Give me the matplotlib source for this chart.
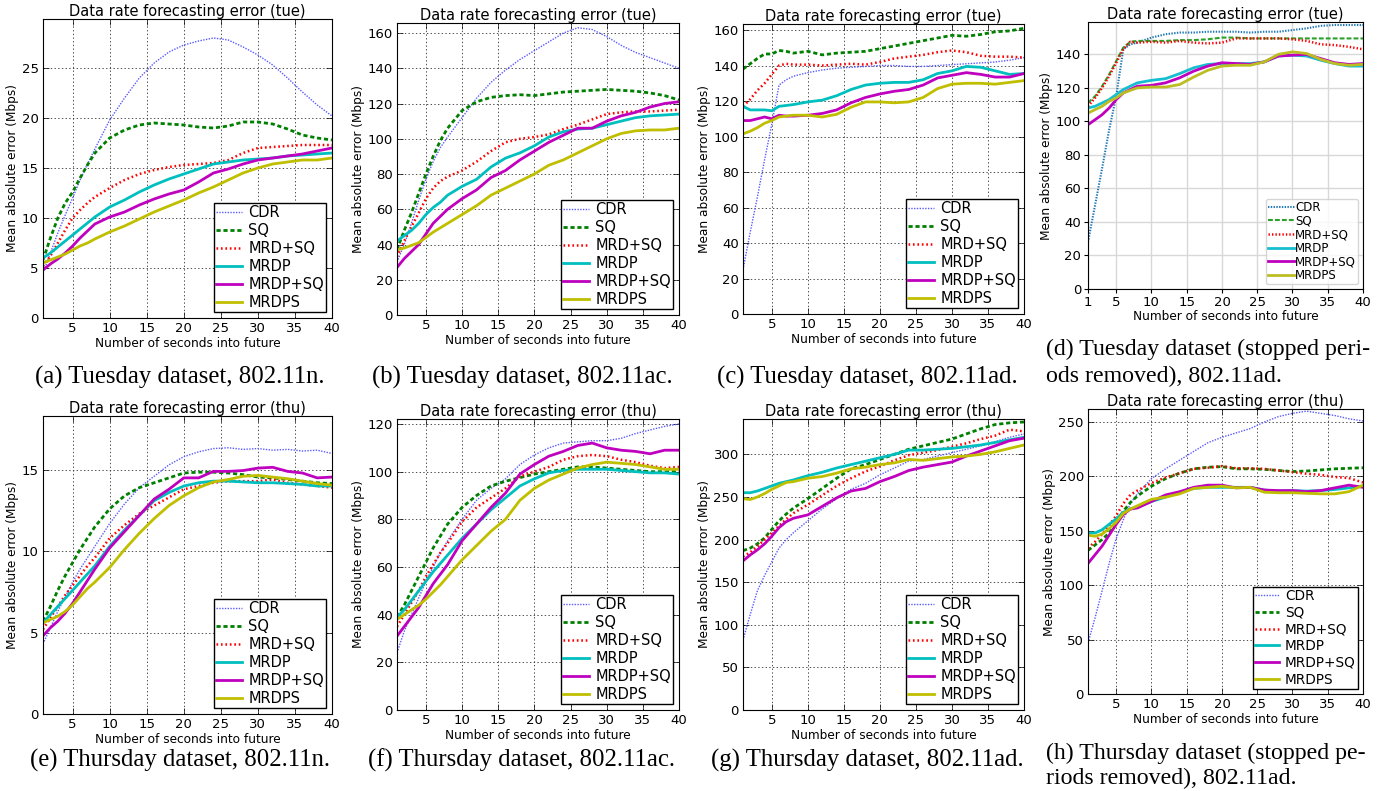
import matplotlib.pyplot as plt

W, H = 1396, 791

X = [1, 2, 3, 4, 5, 6, 7, 8, 10, 12, 14, 16, 18, 20, 22, 24, 26, 28, 30, 32, 34, 36, 38, 40]
names = ['CDR', 'SQ', 'MRD+SQ', 'MRDP', 'MRDP+SQ', 'MRDPS']

# (a) Tuesday, 802.11n
a_cdr = [4.5, 6.5, 8.5, 10.3, 12.0, 13.8, 15.4, 16.9, 19.8, 22.0, 24.0, 25.5, 26.6, 27.3, 27.7, 28.0, 27.8, 27.1, 26.3, 25.3, 24.0, 22.6, 21.3, 20.2]
a_sq = [5.8, 8.0, 10.0, 11.5, 12.6, 14.0, 15.3, 16.5, 18.0, 18.8, 19.3, 19.5, 19.4, 19.3, 19.1, 19.0, 19.2, 19.6, 19.6, 19.4, 18.9, 18.3, 18.0, 17.8]
a_mrdsq = [5.2, 6.2, 7.5, 8.8, 10.0, 10.8, 11.5, 12.1, 13.0, 13.8, 14.4, 14.8, 15.1, 15.3, 15.4, 15.5, 15.8, 16.5, 17.0, 17.1, 17.2, 17.3, 17.3, 17.3]
a_mrdp = [6.0, 6.5, 7.1, 7.7, 8.3, 8.9, 9.5, 10.1, 11.1, 11.8, 12.6, 13.3, 13.9, 14.4, 14.9, 15.4, 15.6, 15.8, 15.9, 16.0, 16.2, 16.3, 16.4, 16.5]
a_mrdpsq = [4.8, 5.4, 5.9, 6.5, 7.2, 8.0, 8.7, 9.4, 10.1, 10.6, 11.3, 11.9, 12.4, 12.8, 13.6, 14.5, 14.9, 15.4, 15.8, 16.0, 16.2, 16.4, 16.7, 17.0]
a_mrdps = [5.5, 5.8, 6.1, 6.4, 6.8, 7.2, 7.5, 7.9, 8.6, 9.2, 9.9, 10.6, 11.2, 11.8, 12.5, 13.1, 13.8, 14.5, 15.0, 15.4, 15.6, 15.8, 15.8, 16.0]

# (b) Tuesday, 802.11ac
b_cdr = [30, 40, 52, 65, 77, 87, 95, 101, 112, 123, 132, 139, 145, 150, 155, 160, 163, 162, 158, 153, 149, 146, 143, 140]
b_sq = [37, 48, 58, 69, 80, 90, 99, 106, 116, 121, 123.5, 124.5, 125, 124.5, 125.5, 126.5, 127, 127.5, 128, 127.5, 127, 126, 124.5, 122]
b_mrdsq = [33, 42, 50, 58, 66, 72, 76, 78.5, 82, 87, 93, 98, 100, 101, 102.5, 105.5, 108, 111, 114, 115, 115.5, 115.5, 116, 116.5]
b_mrdp = [42, 45, 48, 52, 57, 61, 64, 68, 73, 77, 84, 89, 92, 96, 101, 104, 105.5, 106, 108, 110, 112, 113, 113.5, 114]
b_mrdpsq = [27, 32, 36, 40, 46, 52, 56, 60, 66, 71, 78, 82, 88, 93, 98, 102, 106, 106, 110, 113, 115, 118, 120, 121]
b_mrdps = [37, 38, 39.5, 41, 44, 47, 49.5, 52, 57, 62, 68, 72, 76, 80, 85, 88, 92, 96, 100, 103, 104.5, 105, 105, 106]

# (c) Tuesday, 802.11ad
c_cdr = [25, 46, 66, 87, 107, 129, 132, 134, 136, 137.5, 138.5, 139, 139.5, 140, 140, 139.5, 139.5, 140, 140.5, 141, 141.5, 142, 143, 144.5]
c_sq = [138, 141, 144, 146.5, 146.5, 148.5, 148, 147, 148, 146, 147, 147.5, 148, 149.5, 151, 152.5, 154, 155.5, 157, 156.5, 157.5, 159, 159.5, 161]
c_mrdsq = [117, 121, 126, 130, 135, 140, 141, 140.5, 140.5, 140, 140.5, 141, 140.5, 142, 144, 145, 146, 147.5, 148.5, 147.5, 145.5, 145, 145, 144.5]
c_mrdp = [117, 115, 115, 115, 114.5, 117, 117.5, 118, 119.5, 120.5, 123, 126.5, 129, 130, 130.5, 130.5, 132, 135.5, 137, 139.5, 139, 137, 135, 135.5]
c_mrdpsq = [109, 109, 110, 111, 110, 112, 111.5, 111.5, 112, 113, 115, 119, 122, 124, 125.5, 126.5, 129, 133, 134.5, 136, 135, 133.5, 133.5, 135.5]
c_mrdps = [101.5, 103, 105, 107.5, 109, 111, 111.5, 112, 112, 111, 112.5, 116.5, 119.5, 119.5, 119, 119.5, 122, 127, 129.5, 130, 130, 129.5, 130.5, 131.5]

# (d) Tuesday, stopped periods removed, 802.11ad
d_cdr = [28, 50, 72, 95, 115, 143, 146, 147, 150, 152, 153, 153, 153.5, 153.5, 153.5, 153, 153.5, 153.5, 154.5, 155.5, 157, 157.5, 157.5, 157.5]
d_sq = [111, 115, 121, 128, 136, 144, 147.5, 148, 148, 148, 148.5, 148.5, 149, 150, 150, 149.5, 149.5, 149.5, 149.5, 149.5, 149.5, 149.5, 149.5, 149.5]
d_mrdsq = [109, 114, 120, 127, 135, 143, 147.5, 147, 147.5, 147, 148, 147, 146.5, 147, 149.5, 149.5, 149.5, 149.5, 149, 148, 146, 145.5, 144.5, 143]
d_mrdp = [108, 109, 111, 113, 116, 119, 121, 123, 124.5, 125.5, 128.5, 132, 134, 134.5, 134.5, 134.5, 135.5, 139, 139.5, 139, 136.5, 134.5, 133, 133]
d_mrdpsq = [98, 101, 104, 108, 113, 117, 119, 121, 121.5, 123, 126, 130, 133, 135, 134.5, 134, 135.5, 139, 139.5, 140, 137.5, 135, 134, 134.5]
d_mrdps = [105, 107, 109, 112, 114, 117, 118.5, 120, 120.5, 120.5, 122, 126.5, 130.5, 133, 133.5, 133.5, 135.5, 140, 141.5, 140.5, 137, 134.5, 133.5, 134]

# (e) Thursday, 802.11n
e_cdr = [4.3, 5.3, 6.3, 7.2, 8.1, 8.9, 9.6, 10.3, 11.7, 12.9, 13.9, 14.6, 15.3, 15.8, 16.1, 16.3, 16.35, 16.25, 16.3, 16.2, 16.25, 16.15, 16.2, 16.0]
e_sq = [5.7, 6.6, 7.6, 8.5, 9.3, 10.1, 10.8, 11.5, 12.6, 13.4, 13.9, 14.2, 14.5, 14.8, 14.85, 14.85, 14.8, 14.7, 14.55, 14.5, 14.4, 14.3, 14.2, 14.15]
e_mrdsq = [5.2, 5.9, 6.6, 7.3, 7.9, 8.5, 9.1, 9.6, 10.8, 11.6, 12.3, 12.8, 13.3, 13.8, 14.0, 14.2, 14.3, 14.3, 14.3, 14.4, 14.2, 14.1, 14.0, 13.9]
e_mrdp = [5.6, 6.1, 6.6, 7.1, 7.6, 8.1, 8.6, 9.1, 10.3, 11.3, 12.2, 13.1, 13.6, 14.0, 14.2, 14.3, 14.3, 14.25, 14.2, 14.2, 14.15, 14.1, 14.0, 14.0]
e_mrdpsq = [4.8, 5.3, 5.7, 6.2, 6.8, 7.5, 8.2, 8.9, 10.2, 11.2, 12.2, 13.2, 13.8, 14.5, 14.5, 14.9, 14.9, 14.95, 15.1, 15.15, 14.9, 14.8, 14.5, 14.55]
e_mrdps = [5.6, 5.8, 6.0, 6.3, 6.7, 7.2, 7.7, 8.1, 9.0, 10.1, 11.1, 12.0, 12.8, 13.4, 13.9, 14.25, 14.4, 14.6, 14.65, 14.55, 14.45, 14.3, 14.15, 14.05]

# (f) Thursday, 802.11ac
f_cdr = [24, 33, 40, 47, 54, 60, 66, 71, 80, 88, 93, 97, 103, 107, 110, 112, 112.5, 113, 113, 114, 116, 117.5, 119, 120]
f_sq = [39, 44, 50, 56, 62, 68, 73, 78, 85, 90, 94, 96, 97.5, 99, 100, 101, 102, 102, 101.5, 101, 100.5, 100, 100, 100]
f_mrdsq = [35, 40, 45, 50, 56, 61, 66, 70, 79, 85, 89, 93, 98, 100, 102, 105, 106.5, 107, 106.5, 105, 104, 102.5, 101.5, 102]
f_mrdp = [39, 42, 46, 50, 54, 58, 61.5, 65, 72, 78, 84, 89, 94, 97, 99.5, 100.5, 101, 101, 101, 100.5, 100, 99.5, 99.5, 99]
f_mrdpsq = [31, 35, 39, 43, 48, 53, 57, 61, 71, 78, 85, 91, 99, 103, 106.5, 108.5, 111, 112, 110, 109, 108.5, 107.5, 109, 109]
f_mrdps = [38, 40, 42, 44, 46.5, 49.5, 52.5, 56, 63, 69, 75, 80, 88, 93, 96.5, 99, 101.5, 103, 104, 103.5, 103, 102, 101, 101]

# (g) Thursday, 802.11ad
g_cdr = [82, 112, 140, 158, 174, 190, 200, 208, 222, 236, 248, 259, 266, 276, 284, 292, 294, 298, 302, 306, 310, 315, 320, 324]
g_sq = [187, 190, 195, 202, 212, 222, 230, 237, 248, 260, 272, 283, 288, 294, 300, 306, 310, 314, 318, 324, 330, 335, 337, 338]
g_mrdsq = [180, 185, 192, 200, 208, 216, 224, 231, 241, 252, 263, 272, 280, 286, 293, 299, 302, 305, 309, 313, 318, 322, 329, 327]
g_mrdp = [255, 255, 257, 260, 263, 266, 268, 270, 275, 279, 284, 288, 292, 296, 300, 305, 305, 306, 307, 309, 311, 314, 317, 320]
g_mrdpsq = [175, 182, 188, 195, 204, 214, 221, 225, 229, 239, 249, 257, 260, 268, 274, 281, 285, 288, 291, 298, 304, 310, 316, 319]
g_mrdps = [248, 247, 250, 254, 259, 263, 267, 268, 272, 274, 278, 283, 285, 288, 290, 294, 293, 295, 297, 298, 300, 303, 307, 311]

# (h) Thursday, stopped periods removed, 802.11ad
h_cdr = [47, 70, 95, 120, 143, 160, 175, 184, 198, 207, 215, 223, 231, 236, 240, 244, 250, 255, 258, 260, 258, 256, 253, 251]
h_sq = [132, 137, 142, 148, 157, 168, 176, 182, 191, 198, 203, 207, 208.5, 209, 207, 207, 206.5, 205.5, 204.5, 205, 206, 207, 207.5, 208]
h_mrdsq = [134, 140, 147, 155, 164, 175, 183, 187, 194, 199, 203, 207, 208, 209.5, 207.5, 207.5, 207, 205.5, 204, 202.5, 201.5, 199.5, 198.5, 194.5]
h_mrdp = [148, 148, 151, 156, 161, 167, 170, 172, 177, 181, 185, 189, 190, 190, 190, 190, 187.5, 186.5, 187, 186.5, 187, 188, 189.5, 191]
h_mrdpsq = [120, 128, 136, 146, 156, 165, 170, 171, 177, 183, 186, 190, 192, 192, 189.5, 190, 187.5, 187, 187, 186, 187, 189.5, 192, 190]
h_mrdps = [146, 145, 147, 152, 158, 166, 170, 173, 179, 181, 184, 189, 190, 191, 189.5, 190, 185.5, 185, 185, 184.5, 184, 184, 186, 192]

plt.rcParams['font.family'] = 'DejaVu Sans'
plt.rcParams['lines.scale_dashes'] = False

old_styles = [
    dict(color='#5a5aff', lw=1.0, dashes=(1, 1)),
    dict(color='#008000', lw=2.0, dashes=(3, 2)),
    dict(color='#ff0000', lw=1.8, dashes=(1.2, 2.0)),
    dict(color='#00bfbf', lw=2.0),
    dict(color='#bf00bf', lw=2.0),
    dict(color='#bfbf00', lw=2.0),
]
new_styles = [
    dict(color='#1f77b4', lw=1.5, dashes=(1, 1)),
    dict(color='#2ca02c', lw=1.5, dashes=(3.5, 1.5)),
    dict(color='#ff0000', lw=1.8, dashes=(1, 1.5)),
    dict(color='#17becf', lw=2.0),
    dict(color='#bf00bf', lw=2.0),
    dict(color='#bcbd22', lw=2.0),
]


def box(l, r, t, b):
    return [l / W, 1 - b / H, (r - l) / W, (b - t) / H]


def draw(fig, pos, series, ymax, ystep, day, new=False, legsize=10.5):
    ax = fig.add_axes(pos)
    styles = new_styles if new else old_styles
    for s, name, st in zip(series, names, styles):
        ax.plot(X, s, label=name, **st)
    ax.set_xlim(1, 40)
    ax.set_ylim(0, ymax)
    ax.set_yticks(range(0, int(ymax) + 1, ystep))
    if new:
        ax.set_xticks([1, 5, 10, 15, 20, 25, 30, 35, 40])
        ax.grid(True, color='#d8d8d8', lw=1.0)
        ax.tick_params(labelsize=9.5, length=3, pad=2)
        leg = ax.legend(loc='lower right', fontsize=8.5, handlelength=2.3,
                        handletextpad=0.0, labelspacing=0.05, borderpad=0.2,
                        borderaxespad=0.4, framealpha=0.8, fancybox=True)
    else:
        ax.set_xticks([5, 10, 15, 20, 25, 30, 35, 40])
        ax.grid(True, color='#333333', ls=':', lw=0.6)
        ax.tick_params(labelsize=9.5, direction='in', top=True, right=True,
                       length=4, width=0.5, pad=3)
        leg = ax.legend(loc='lower right', fontsize=legsize, handlelength=1.8,
                        handletextpad=0.4, labelspacing=0.2, borderpad=0.15,
                        borderaxespad=0.4, fancybox=False, framealpha=1)
        leg.get_frame().set_edgecolor('k')
        leg.get_frame().set_linewidth(1.0)
    ax.set_axisbelow(True)
    ax.set_title('Data rate forecasting error (%s)' % day, fontsize=10.5, pad=2)
    ax.set_xlabel('Number of seconds into future', fontsize=8.7, labelpad=1)
    ax.set_ylabel('Mean absolute error (Mbps)', fontsize=8.7, labelpad=2)
    return ax


fig = plt.figure(figsize=(W / 100, H / 100), dpi=100)

draw(fig, box(43, 332, 19, 318), [a_cdr, a_sq, a_mrdsq, a_mrdp, a_mrdpsq, a_mrdps], 29.9, 5, 'tue')
draw(fig, box(397, 679, 23, 315), [b_cdr, b_sq, b_mrdsq, b_mrdp, b_mrdpsq, b_mrdps], 165.7, 20, 'tue')
draw(fig, box(743, 1024, 24, 314), [c_cdr, c_sq, c_mrdsq, c_mrdp, c_mrdpsq, c_mrdps], 163.4, 20, 'tue')
draw(fig, box(1088, 1363, 22, 289), [d_cdr, d_sq, d_mrdsq, d_mrdp, d_mrdpsq, d_mrdps], 159.3, 20, 'tue', new=True)
draw(fig, box(43, 332, 416, 714), [e_cdr, e_sq, e_mrdsq, e_mrdp, e_mrdpsq, e_mrdps], 18.3, 5, 'thu')
draw(fig, box(397, 679, 419, 710), [f_cdr, f_sq, f_mrdsq, f_mrdp, f_mrdpsq, f_mrdps], 122.1, 20, 'thu')
draw(fig, box(743, 1024, 419, 710), [g_cdr, g_sq, g_mrdsq, g_mrdp, g_mrdpsq, g_mrdps], 341.5, 50, 'thu')
draw(fig, box(1088, 1363, 409, 694), [h_cdr, h_sq, h_mrdsq, h_mrdp, h_mrdpsq, h_mrdps], 262, 50, 'thu', legsize=9.8)

# captions
cap = dict(fontfamily='Liberation Serif', fontsize=17.8, va='center')
cap2 = dict(fontfamily='Liberation Serif', fontsize=17.2, va='center')
fig.text(180 / W, 1 - 377 / H, '(a) Tuesday dataset, 802.11n.', ha='center', **cap)
fig.text(522 / W, 1 - 377 / H, '(b) Tuesday dataset, 802.11ac.', ha='center', **cap)
fig.text(867 / W, 1 - 377 / H, '(c) Tuesday dataset, 802.11ad.', ha='center', **cap)
fig.text(1046 / W, 1 - 349 / H, '(d) Tuesday dataset (stopped peri-', ha='left', **cap2)
fig.text(1046 / W, 1 - 376 / H, 'ods removed), 802.11ad.', ha='left', **cap2)
fig.text(180 / W, 1 - 760 / H, '(e) Thursday dataset, 802.11n.', ha='center', **cap)
fig.text(522 / W, 1 - 760 / H, '(f) Thursday dataset, 802.11ac.', ha='center', **cap)
fig.text(867 / W, 1 - 760 / H, '(g) Thursday dataset, 802.11ad.', ha='center', **cap)
fig.text(1046 / W, 1 - 753 / H, '(h) Thursday dataset (stopped pe-', ha='left', **cap2)
fig.text(1046 / W, 1 - 778 / H, 'riods removed), 802.11ad.', ha='left', **cap2)

fig.savefig('out.png', dpi=100)
